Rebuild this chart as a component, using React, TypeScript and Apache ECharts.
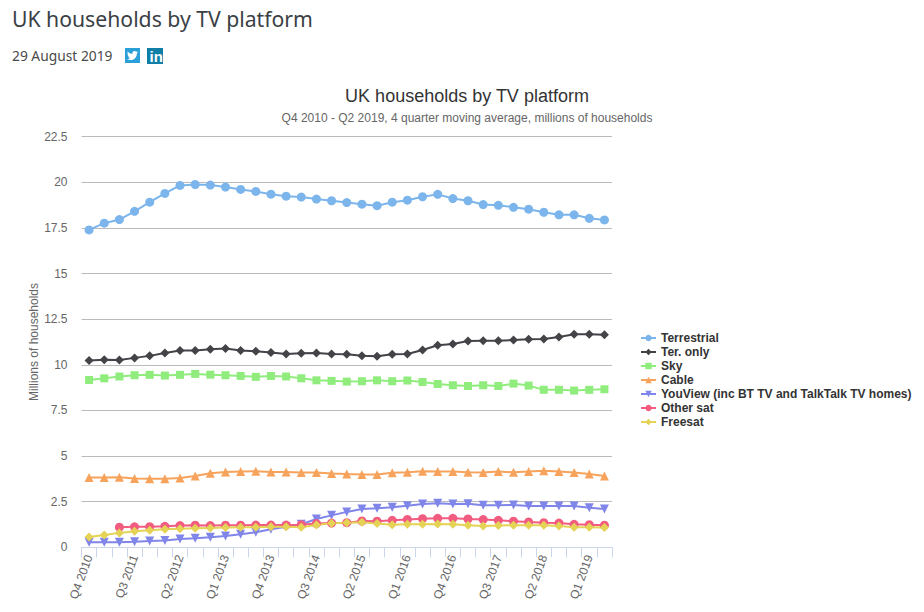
import React, { useEffect, useRef } from "react";
import * as echarts from "echarts";

const categories = [
  "Q4 2010","Q1 2011","Q2 2011","Q3 2011","Q4 2011","Q1 2012","Q2 2012","Q3 2012","Q4 2012",
  "Q1 2013","Q2 2013","Q3 2013","Q4 2013","Q1 2014","Q2 2014","Q3 2014","Q4 2014",
  "Q1 2015","Q2 2015","Q3 2015","Q4 2015","Q1 2016","Q2 2016","Q3 2016","Q4 2016",
  "Q1 2017","Q2 2017","Q3 2017","Q4 2017","Q1 2018","Q2 2018","Q3 2018","Q4 2018","Q1 2019","Q2 2019",
];
const terrestrial = [17.39,17.76,17.96,18.41,18.91,19.39,19.83,19.88,19.85,19.74,19.61,19.5,19.35,19.24,19.19,19.08,18.99,18.89,18.8,18.72,18.91,19.02,19.21,19.34,19.11,18.99,18.78,18.74,18.63,18.53,18.36,18.22,18.22,18.03,17.94];
const terOnly = [10.23,10.28,10.27,10.38,10.49,10.65,10.78,10.78,10.85,10.89,10.79,10.74,10.67,10.59,10.63,10.65,10.59,10.58,10.5,10.47,10.58,10.59,10.81,11.07,11.14,11.31,11.32,11.32,11.36,11.4,11.41,11.52,11.67,11.67,11.65];
const sky = [9.17,9.26,9.36,9.43,9.45,9.41,9.45,9.5,9.46,9.43,9.39,9.34,9.39,9.36,9.26,9.15,9.12,9.08,9.1,9.15,9.1,9.14,9.06,8.95,8.88,8.84,8.88,8.84,8.97,8.86,8.63,8.63,8.59,8.63,8.66];
const cable = [3.82,3.82,3.84,3.77,3.75,3.75,3.8,3.91,4.06,4.13,4.15,4.17,4.13,4.13,4.1,4.1,4.04,4.01,3.99,3.99,4.08,4.11,4.17,4.15,4.15,4.11,4.1,4.15,4.11,4.15,4.19,4.15,4.1,4.02,3.91];
const youView = [0.28,0.28,0.28,0.31,0.35,0.37,0.46,0.5,0.55,0.62,0.71,0.82,0.99,1.13,1.26,1.55,1.75,1.94,2.1,2.14,2.19,2.28,2.37,2.41,2.37,2.39,2.3,2.3,2.32,2.26,2.26,2.26,2.26,2.17,2.1];
const otherSat = [null,null,1.1,1.12,1.13,1.15,1.19,1.21,1.19,1.21,1.21,1.22,1.22,1.22,1.24,1.3,1.33,1.35,1.44,1.43,1.48,1.53,1.57,1.59,1.59,1.55,1.52,1.48,1.43,1.39,1.35,1.33,1.26,1.24,1.21];
const freesat = [0.57,0.68,0.79,0.88,0.93,0.99,1.02,1.04,1.06,1.08,1.1,1.1,1.12,1.12,1.1,1.22,1.32,1.35,1.37,1.3,1.24,1.26,1.26,1.28,1.26,1.21,1.17,1.19,1.21,1.21,1.21,1.17,1.1,1.1,1.08];

const triangleDown = "path://M0,0 L10,0 L5,10 Z";
const birdPath = "M24 4.6c-.9.4-1.8.7-2.8.8 1-.6 1.8-1.6 2.2-2.7-1 .6-2 1-3.1 1.2A4.9 4.9 0 0 0 11.9 8.4C7.8 8.2 4.1 6.3 1.7 3.3c-1.3 2.2-.7 5.1 1.5 6.6-.8 0-1.6-.2-2.2-.6 0 2.3 1.6 4.4 3.9 4.9-.7.2-1.5.2-2.2.1.6 2 2.4 3.4 4.6 3.4A9.9 9.9 0 0 1 0 19.7 13.9 13.9 0 0 0 7.5 22c9.1 0 14.3-7.7 14-14.6 1-.7 1.8-1.6 2.5-2.8z";
echarts.graphic.registerShape("twbird", echarts.graphic.extendPath(birdPath, {}) as any);

const seriesDefs: [string, (number | null)[], string, string, number][] = [
  ["Terrestrial", terrestrial, "#7cb5ec", "circle", 9],
  ["Ter. only", terOnly, "#434348", "diamond", 9],
  ["Sky", sky, "#90ed7d", "rect", 8],
  ["Cable", cable, "#f7a35c", "triangle", 9],
  ["YouView (inc BT TV and TalkTalk TV homes)", youView, "#8085e9", triangleDown, 9],
  ["Other sat", otherSat, "#f15c80", "circle", 9],
  ["Freesat", freesat, "#e4d354", "diamond", 9],
];

export default function App() {
  const ref = useRef<HTMLDivElement>(null);
  useEffect(() => {
    const chart = echarts.init(ref.current!, undefined, { renderer: "svg" });
    chart.setOption({
      animation: false,
      backgroundColor: "#ffffff",
      title: [
        {
          text: "UK households by TV platform",
          left: 462,
          top: 82,
          textAlign: "center",
          textStyle: { fontFamily: "Liberation Sans", fontSize: 18, fontWeight: "normal", color: "#333333" },
        },
        {
          text: "Q4 2010 - Q2 2019, 4 quarter moving average, millions of households",
          left: 462,
          top: 107,
          textAlign: "center",
          textStyle: { fontFamily: "Liberation Sans", fontSize: 12, fontWeight: "normal", color: "#666666" },
        },
      ],
      grid: { left: 81.5, right: 312, top: 136.7, bottom: 64.7 },
      legend: {
        orient: "vertical",
        left: 640,
        top: 332,
        itemWidth: 15,
        itemHeight: 8,
        itemGap: 2,
        padding: 0,
        textStyle: {
          fontFamily: "Liberation Sans",
          fontSize: 12,
          fontWeight: "bold",
          color: "#333333",
          lineHeight: 12,
        },
        data: seriesDefs.map((s) => s[0]),
      },
      xAxis: {
        type: "category",
        data: categories,
        boundaryGap: true,
        axisLine: { lineStyle: { color: "#ccd6eb", width: 1 } },
        axisTick: { show: true, interval: 0, length: 10, lineStyle: { color: "#ccd6eb" } },
        splitLine: { show: false },
        axisLabel: {
          interval: 2,
          rotate: 70,
          margin: 8,
          fontFamily: "Liberation Sans",
          fontSize: 12,
          color: "#666666",
        },
      },
      yAxis: {
        type: "value",
        min: 0,
        max: 22.5,
        interval: 2.5,
        name: "Millions of households",
        nameLocation: "middle",
        nameGap: 42,
        nameMoveOverlap: false,
        nameTextStyle: { fontFamily: "Liberation Sans", fontSize: 12, color: "#666666" },
        axisLine: { show: false },
        axisTick: { show: false },
        splitLine: { lineStyle: { color: "#bbbbbb", width: 1 } },
        axisLabel: {
          margin: 14,
          padding: [3, 0, 0, 0],
          fontFamily: "Liberation Sans",
          fontSize: 12,
          color: "#666666",
        },
      },
      series: seriesDefs.map(([name, data, color, symbol, size]) => ({
        name,
        type: "line",
        data,
        symbol,
        symbolSize: size,
        showSymbol: true,
        showAllSymbol: true,
        connectNulls: false,
        lineStyle: { color, width: 2 },
        itemStyle: { color },
      })),
      graphic: [
        {
          type: "text",
          x: 12,
          y: 8,
          style: {
            text: "UK households by TV platform",
            fontFamily: "Noto Sans",
            fontSize: 21.2,
            fill: "#3a3f45",
          },
        },
        {
          type: "text",
          x: 12,
          y: 48,
          style: { text: "29 August 2019", fontFamily: "Noto Sans", fontSize: 13.8, fill: "#4a4a4a" },
        },
        { type: "rect", shape: { x: 125, y: 48, width: 15, height: 15 }, style: { fill: "#2a9fd8" } },
        { type: "twbird", x: 127, y: 50, scaleX: 11 / 24, scaleY: 11 / 24, style: { fill: "#ffffff" } },
        { type: "rect", shape: { x: 147, y: 48, width: 16, height: 16 }, style: { fill: "#0f7fa8" } },
        {
          type: "text",
          x: 149.5,
          y: 48.5,
          style: { text: "in", fontFamily: "Liberation Sans", fontWeight: "bold", fontSize: 15, fill: "#ffffff" },
        },
      ],
    });
    return () => chart.dispose();
  }, []);
  return <div ref={ref} style={{ position: "fixed", left: 0, top: 0, width: 924, height: 612 }} />;
}
